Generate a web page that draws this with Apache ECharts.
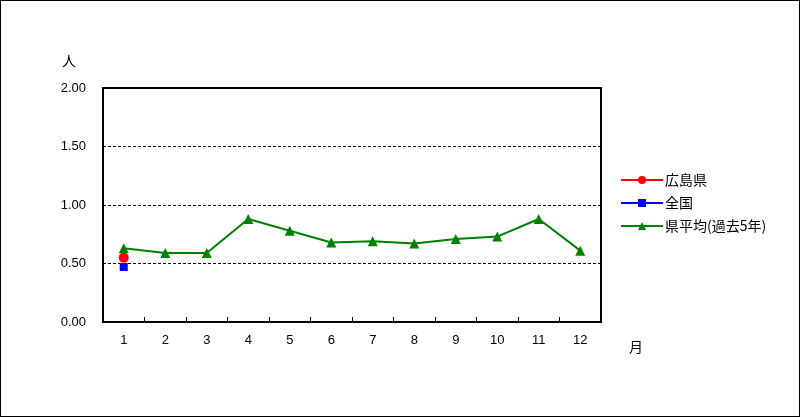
<!DOCTYPE html>
<html><head><meta charset="utf-8">
<script src="https://cdn.jsdelivr.net/npm/echarts@6/dist/echarts.min.js"></script>
<style>html,body{margin:0;padding:0;background:#fff}#c{width:800px;height:417px;box-sizing:border-box;border:1px solid #000}</style>
</head><body><div id="c"></div>
<script>
const months = ['1','2','3','4','5','6','7','8','9','10','11','12'];
const hiroshima = [0.55, null, null, null, null, null, null, null, null, null, null, null];
const national = [0.47, null, null, null, null, null, null, null, null, null, null, null];
const avg5 = [0.63, 0.59, 0.59, 0.88, 0.78, 0.68, 0.69, 0.67, 0.71, 0.73, 0.88, 0.61];
const yTicks = [0, 0.5, 1.0, 1.5, 2.0];
const names = ['広島県', '全国', '県平均(過去5年)'];

const font = '"Noto Sans CJK JP", sans-serif';
const numFont = '"Liberation Sans", Arial, sans-serif';
const chart = echarts.init(document.getElementById('c'), null, {renderer: 'canvas'});
chart.setOption({
  animation: false,
  textStyle: {fontFamily: font, color: '#000'},
  grid: {left: 102, top: 87, width: 498, height: 234, show: true, borderColor: '#000', borderWidth: 2, containLabel: false},
  legend: {
    left: 614, top: 167, orient: 'vertical', itemWidth: 42, itemHeight: 10, itemGap: 9,
    textStyle: {fontSize: 14, color: '#000', fontFamily: font, padding: [0, 0, 0, -3]},
    data: names
  },
  xAxis: {
    type: 'category', data: months, boundaryGap: true,
    name: '月', nameLocation: 'end', nameGap: 28,
    nameTextStyle: {fontSize: 14, color: '#000', verticalAlign: 'top', padding: [18, 0, 0, 0]},
    axisLine: {show: false},
    axisTick: {show: true, inside: true, length: 5, lineStyle: {color: '#000'}},
    axisLabel: {color: '#000', fontSize: 13, margin: 12, fontFamily: numFont}
  },
  yAxis: {
    type: 'value', min: 0, max: 2, interval: 0.5,
    name: '人', nameLocation: 'end', nameGap: 20,
    nameTextStyle: {fontSize: 14, color: '#000', align: 'right', padding: [0, 27, 0, 0]},
    axisLine: {show: false}, axisTick: {show: false},
    axisLabel: {color: '#000', fontSize: 13, margin: 17, fontFamily: numFont, formatter: v => yTicks.includes(v) ? v.toFixed(2) : ''},
    splitLine: {show: true, lineStyle: {color: '#000', type: [3, 2], width: 1}}
  },
  series: [
    {name: names[0], type: 'line', data: hiroshima, symbol: 'circle', symbolSize: 10,
     itemStyle: {color: '#ff0000'}, lineStyle: {color: '#ff0000', width: 2}},
    {name: names[1], type: 'line', data: national, symbol: 'rect', symbolSize: 8,
     itemStyle: {color: '#0000ff'}, lineStyle: {color: '#0000ff', width: 2}},
    {name: names[2], type: 'line', data: avg5, symbol: 'triangle', symbolSize: 10,
     itemStyle: {color: '#008000'}, lineStyle: {color: '#008000', width: 2}}
  ]
});
</script></body></html>
